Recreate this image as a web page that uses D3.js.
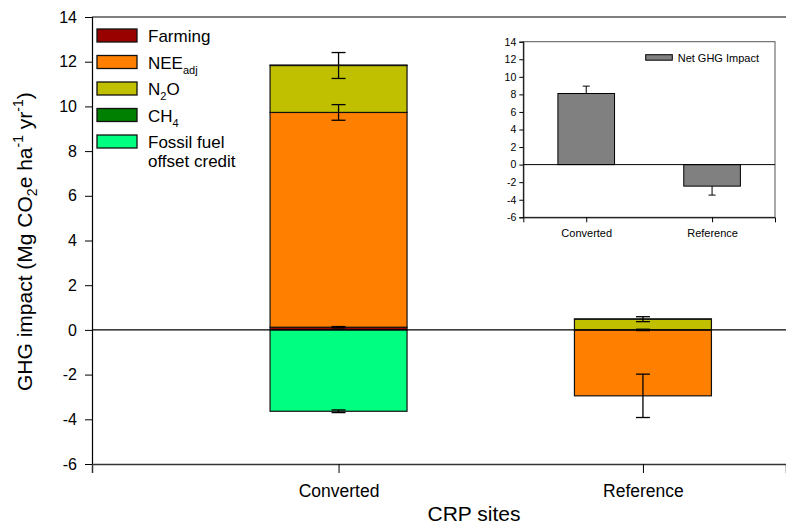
<!DOCTYPE html>
<html>
<head>
<meta charset="utf-8">
<script src="https://cdn.jsdelivr.net/npm/d3@7"></script>
<style>
  body { margin: 0; background: #fff; }
  svg { font-family: "Liberation Sans", Arial, sans-serif; }
</style>
</head>
<body>
<div id="canvas"></div>
<script>
// data
var categories = ["Converted", "Reference"];
var farming = [0.12, 0.0];
var nee = [9.61, -2.95];
var n2o = [2.10, 0.48];
var ch4 = [0.02, 0.01];
var fossil = [-3.64, 0.0];

var farmingErr = [0.03, 0.03];
var neeErr = [0.35, 0.97];
var n2oErr = [0.58, 0.11];
var ch4Err = [0.0, 0.0];
var fossilErr = [0.06, 0.0];

var netImpact = [8.1, -2.45];
var netErr = [0.84, 1.02];

var yTicks = [-6, -4, -2, 0, 2, 4, 6, 8, 10, 12, 14];

var seriesInfo = [
  { key: "farming", label: "Farming", color: "#990000", err: farmingErr },
  { key: "nee", label: "NEE", sub: "adj", color: "#FF8000", err: neeErr },
  { key: "n2o", label: "N", sub: "2", after: "O", color: "#C0C000", err: n2oErr },
  { key: "ch4", label: "CH", sub: "4", color: "#008000", err: ch4Err },
  { key: "fossil", label: "Fossil fuel", line2: "offset credit", color: "#00FF80", err: fossilErr }
];

var table = categories.map(function(c, i) {
  return { cat: c, i: i, farming: farming[i], nee: nee[i], n2o: n2o[i], ch4: ch4[i], fossil: fossil[i] };
});

var W = 786, H = 527;
var svg = d3.select("#canvas").append("svg")
  .attr("width", W).attr("height", H);

var plainNum = function(d) { return String(d); };

// main plot area
var pLeft = 92, pRight = 786, pTop = 17, pBottom = 464;

var x = d3.scaleLinear().domain([0.19, 2.47]).range([pLeft, pRight]);
var y = d3.scaleLinear().domain([-6, 14]).range([pBottom, pTop]);
var barW = x(1.45) - x(1);

var stack = d3.stack()
  .keys(seriesInfo.map(function(s) { return s.key; }))
  .offset(d3.stackOffsetDiverging);
var layers = stack(table);

// stacked bars
var layerG = svg.selectAll(".layer")
  .data(layers)
  .enter().append("g")
  .attr("class", "layer")
  .attr("fill", function(d, i) { return seriesInfo[i].color; });

layerG.selectAll("rect")
  .data(function(d) { return d.filter(function(p) { return p[1] - p[0] > 0; }); })
  .enter().append("rect")
  .attr("x", function(d) { return x(d.data.i + 1) - barW / 2; })
  .attr("width", barW)
  .attr("y", function(d) { return y(d[1]); })
  .attr("height", function(d) { return y(d[0]) - y(d[1]); })
  .attr("stroke", "#111")
  .attr("stroke-width", 1.2);

// frame lines
svg.append("line").attr("x1", pLeft).attr("x2", pRight).attr("y1", pTop).attr("y2", pTop)
  .attr("stroke", "#000").attr("stroke-width", 1.2);
svg.append("line").attr("x1", pLeft).attr("x2", pRight).attr("y1", y(0)).attr("y2", y(0))
  .attr("stroke", "#000").attr("stroke-width", 1.2);

// error bars at the outer end of each segment
layers.forEach(function(layer, li) {
  var err = seriesInfo[li].err;
  layer.forEach(function(d) {
    var e = err[d.data.i];
    var v = d.data[layer.key];
    if (!e) return;
    var end = v < 0 ? d[0] : d[1];
    var cx = x(d.data.i + 1);
    var g = svg.append("g").attr("stroke", "#000").attr("stroke-width", 1.3);
    g.append("line").attr("x1", cx).attr("x2", cx).attr("y1", y(end + e)).attr("y2", y(end - e));
    g.append("line").attr("x1", cx - 7).attr("x2", cx + 7).attr("y1", y(end + e)).attr("y2", y(end + e));
    g.append("line").attr("x1", cx - 7).attr("x2", cx + 7).attr("y1", y(end - e)).attr("y2", y(end - e));
  });
});

// axes
var yAxis = d3.axisLeft(y).tickValues(yTicks).tickFormat(plainNum).tickSize(7).tickPadding(8);
var yG = svg.append("g").attr("transform", "translate(" + pLeft + ",0)").call(yAxis);
yG.select(".domain").attr("stroke", "#000").attr("stroke-width", 1.2);
yG.selectAll("text").attr("font-size", 16).attr("fill", "#000")
  .attr("font-family", "Liberation Sans, Arial, sans-serif");

var xAxis = d3.axisBottom(x).tickValues([1, 2])
  .tickFormat(function(d) { return categories[d - 1]; })
  .tickSize(9).tickPadding(12);
var xG = svg.append("g").attr("transform", "translate(0," + pBottom + ")").call(xAxis);
xG.select(".domain").attr("stroke", "#333").attr("stroke-width", 1.5);
xG.selectAll("text").attr("font-size", 17.5).attr("fill", "#000")
  .attr("font-family", "Liberation Sans, Arial, sans-serif");

// axis titles
svg.append("text")
  .attr("x", 474).attr("y", 521)
  .attr("text-anchor", "middle")
  .attr("font-size", 21)
  .text("CRP sites");

var yt = svg.append("text")
  .attr("transform", "translate(32,391) rotate(-90)")
  .attr("text-anchor", "start")
  .attr("font-size", 21);
yt.append("tspan").text("GHG impact (Mg CO");
yt.append("tspan").attr("font-size", 14).attr("dy", 5).text("2");
yt.append("tspan").attr("dy", -5).text("e ha");
yt.append("tspan").attr("font-size", 14).attr("dy", -9).text("-1");
yt.append("tspan").attr("dy", 9).text(" yr");
yt.append("tspan").attr("font-size", 14).attr("dy", -9).text("-1");
yt.append("tspan").attr("dy", 9).text(")");

// legend
var legend = svg.append("g").attr("transform", "translate(97,29)");
var rowH = 26.5;
seriesInfo.forEach(function(s, i) {
  var g = legend.append("g").attr("transform", "translate(0," + (i * rowH) + ")");
  g.append("rect").attr("width", 40).attr("height", 13)
    .attr("fill", s.color).attr("stroke", "#111").attr("stroke-width", 1.3);
  var t = g.append("text").attr("x", 51).attr("y", 13).attr("font-size", 17);
  t.append("tspan").text(s.label);
  if (s.sub) {
    t.append("tspan").attr("font-size", 11).attr("dy", 5).text(s.sub);
    if (s.after) t.append("tspan").attr("dy", -5).text(s.after);
  }
  if (s.line2) {
    g.append("text").attr("x", 51).attr("y", 32).attr("font-size", 17).text(s.line2);
  }
});

// inset chart
var iLeft = 523.3, iRight = 775, iTop = 41.7, iBottom = 217.3;
var ix = d3.scaleLinear().domain([0.5, 2.5]).range([iLeft, iRight]);
var iy = d3.scaleLinear().domain([-6, 14]).range([iBottom, iTop]);
var iBarW = ix(1.45) - ix(1);

var inset = svg.append("g");
inset.append("rect")
  .attr("x", iLeft).attr("y", iTop)
  .attr("width", iRight - iLeft).attr("height", iBottom - iTop)
  .attr("fill", "#fff").attr("stroke", "#555").attr("stroke-width", 1);

inset.selectAll(".netbar")
  .data(netImpact)
  .enter().append("rect")
  .attr("class", "netbar")
  .attr("x", function(d, i) { return ix(i + 1) - iBarW / 2; })
  .attr("width", iBarW)
  .attr("y", function(d) { return iy(Math.max(0, d)); })
  .attr("height", function(d) { return Math.abs(iy(d) - iy(0)); })
  .attr("fill", "#808080")
  .attr("stroke", "#000").attr("stroke-width", 1);

inset.append("line").attr("x1", iLeft).attr("x2", iRight)
  .attr("y1", iy(0)).attr("y2", iy(0)).attr("stroke", "#000").attr("stroke-width", 1);

netImpact.forEach(function(v, i) {
  var cx = ix(i + 1);
  var tip = v + (v < 0 ? -netErr[i] : netErr[i]);
  inset.append("line").attr("x1", cx).attr("x2", cx).attr("y1", iy(v)).attr("y2", iy(tip))
    .attr("stroke", "#000").attr("stroke-width", 1);
  inset.append("line").attr("x1", cx - 3.5).attr("x2", cx + 3.5).attr("y1", iy(tip)).attr("y2", iy(tip))
    .attr("stroke", "#000").attr("stroke-width", 1);
});

var iyG = inset.append("g").attr("transform", "translate(" + iLeft + ",0)")
  .call(d3.axisLeft(iy).tickValues(yTicks).tickFormat(plainNum).tickSize(4).tickPadding(3));
iyG.select(".domain").attr("stroke", "#000");
iyG.selectAll("text").attr("font-size", 10.5).attr("fill", "#000")
  .attr("font-family", "Liberation Sans, Arial, sans-serif");

var ixG = inset.append("g").attr("transform", "translate(0," + iBottom + ")")
  .call(d3.axisBottom(ix).tickValues([1, 2])
    .tickFormat(function(d) { return categories[d - 1]; })
    .tickSize(5).tickPadding(7));
ixG.select(".domain").attr("stroke", "#000");
ixG.selectAll("text").attr("font-size", 11).attr("fill", "#000")
  .attr("font-family", "Liberation Sans, Arial, sans-serif");

// inset legend
inset.append("rect").attr("x", 645.7).attr("y", 54.7).attr("width", 26.6).attr("height", 5.5)
  .attr("fill", "#808080").attr("stroke", "#000").attr("stroke-width", 1);
inset.append("text").attr("x", 677.7).attr("y", 61.5).attr("font-size", 11).text("Net GHG Impact");
</script>
</body>
</html>
